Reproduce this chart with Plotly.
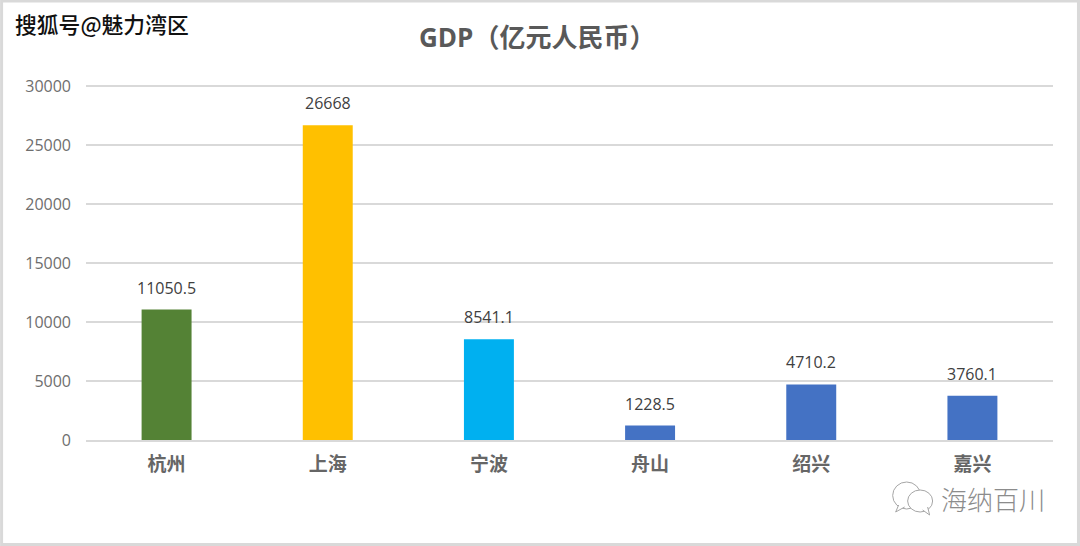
import plotly.graph_objects as go

categories = ["杭州", "上海", "宁波", "舟山", "绍兴", "嘉兴"]
values = [11050.5, 26668, 8541.1, 1228.5, 4710.2, 3760.1]
labels = ["11050.5", "26668", "8541.1", "1228.5", "4710.2", "3760.1"]
colors = ["#548235", "#FFC000", "#00B0F0", "#4472C4", "#4472C4", "#4472C4"]
y_ticks = [0, 5000, 10000, 15000, 20000, 25000, 30000]

W, H = 1080, 546
L, R, T, B = 85.5, 26.5, 83, 106
CJK = "Noto Sans CJK SC"


def px(x):
    return (x - L) / (W - L - R)


def py(y):
    return (H - B - y) / (H - T - B)


fig = go.Figure(go.Bar(
    x=categories, y=values, marker=dict(color=colors, line_width=0), width=0.31, cliponaxis=False,
))

value_notes = [
    dict(text=t, x=c, y=v, xref="x", yref="y", yshift=9, yanchor="bottom", showarrow=False,
         font=dict(size=16, color="#404040", family="Open Sans"))
    for c, v, t in zip(categories, values, labels)
]

icon_line = dict(color="#A6A6A6", width=1)
icon_parts = [
    dict(type="circle", xref="paper", yref="paper", x0=px(893), x1=px(921), y0=py(509), y1=py(482),
         line=icon_line, fillcolor="white"),
    dict(type="path", xref="paper", yref="paper",
         path=f"M {px(899)} {py(505)} L {px(896)} {py(512)} L {px(905)} {py(507)}",
         line=icon_line, fillcolor="white"),
    dict(type="circle", xref="paper", yref="paper", x0=px(908), x1=px(933), y0=py(512), y1=py(490),
         line=icon_line, fillcolor="white"),
    dict(type="path", xref="paper", yref="paper",
         path=f"M {px(923)} {py(510)} L {px(930)} {py(515)} L {px(928)} {py(507)}",
         line=icon_line, fillcolor="white"),
]

fig.update_layout(
    width=W, height=H, margin=dict(l=L, r=R, t=T, b=B, pad=0),
    paper_bgcolor="white", plot_bgcolor="white", showlegend=False,
    font=dict(family=CJK),
    xaxis=dict(showgrid=False, zeroline=False, showline=True, linecolor="#D9D9D9", linewidth=2,
               tickfont=dict(size=19, color="#666666", family=CJK, weight="bold"), ticks="", ticklabelstandoff=6),
    yaxis=dict(range=[0, 30254], tickvals=y_ticks, tickformat="d", gridcolor="#D9D9D9", gridwidth=1.5,
               zeroline=False, showline=False, tickfont=dict(size=16, color="#6E6E6E", family="Open Sans"),
               ticks="", ticklabelstandoff=14),
    annotations=value_notes + [
        dict(text="<b>GDP（亿元人民币）</b>", xref="paper", yref="paper", x=px(537), y=py(37), showarrow=False,
             xanchor="center", yanchor="middle", font=dict(size=26, color="#595959", family="Open Sans, " + CJK)),
        dict(text="搜狐号@魅力湾区", xref="paper", yref="paper", x=px(12), y=py(24), showarrow=False,
             xanchor="left", yanchor="middle", font=dict(size=21.8, color="#111111", family=CJK, weight=500)),
        dict(text="海纳百川", xref="paper", yref="paper", x=px(939), y=py(498), showarrow=False,
             xanchor="left", yanchor="middle", font=dict(size=26, color="#8C8C8C", family=CJK, weight=300)),
    ],
    shapes=[
        dict(type="rect", xref="paper", yref="paper", x0=px(1), x1=px(W - 1), y0=py(H - 1.5), y1=py(1),
             line=dict(color="#D9D9D9", width=3), fillcolor="rgba(0,0,0,0)", layer="above"),
    ] + icon_parts,
)
fig.write_html("out.html", config=dict(displayModeBar=False),
               post_script="document.body.style.margin='0';document.documentElement.style.overflow='hidden';")
